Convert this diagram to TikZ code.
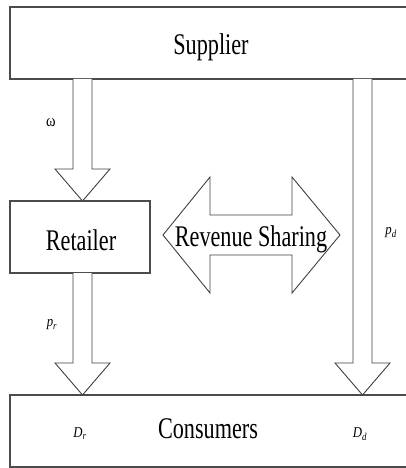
\documentclass[tikz,border=0pt]{standalone}
\usepackage{fontspec}
\setmainfont{Liberation Serif}
\usetikzlibrary{calc}
\tikzset{
  box/.style={draw=black!70, line width=1.3pt, rectangle, minimum height=72pt, inner sep=0pt},
  maintext/.style={inner sep=0pt, anchor=base, xscale=0.74, font=\fontsize{30}{32}\selectfont},
  blk/.style={draw=black!75, line width=0.9pt, line join=miter, fill=white},
  lbl/.style={inner sep=0pt, xscale=0.85, font=\fontsize{15}{17}\selectfont\itshape},
}
\newcommand\blockdown[2]{%
  \draw[blk] ($(#1)+(-9.5,0)$) -- ($(#2)+(-9.5,-32)$) -- ($(#2)+(-27.5,-32)$) -- (#2)
    -- ($(#2)+(27.5,-32)$) -- ($(#2)+(9.5,-32)$) -- ($(#1)+(9.5,0)$);}
\begin{document}
\begin{tikzpicture}[x=1pt,y=-1pt]
\useasboundingbox (0,0) rectangle (406,468);
\clip (0,0) rectangle (406,468);
\node[box, minimum width=400pt] (sup) at (210,43) {};
\node[box, minimum width=140pt] (ret) at (80,237) {};
\node[box, minimum width=400pt] (con) at (210,431) {};
\node[maintext] (supt) at (211,55) {Supplier};
\node[maintext] (rett) at (81,250) {Retailer};
\node[maintext] (cont) at (208,438) {Consumers};
% connectors
\coordinate (a1s) at (82.5,79);
\coordinate (a1e) at (82.5,201);
\coordinate (a2s) at (82.5,273);
\coordinate (a2e) at (82.5,395);
\coordinate (a3s) at (362.5,79);
\coordinate (a3e) at (362.5,395);
\blockdown{a1s}{a1e}
\blockdown{a2s}{a2e}
\blockdown{a3s}{a3e}
% revenue sharing double arrow
\coordinate (rsl) at (163,235);
\coordinate (rsr) at (340,235);
\draw[blk] (rsl) -- (210,177) -- (210,215) -- (292,215) -- (292,177) -- (rsr)
  -- (292,293) -- (292,255) -- (210,255) -- (210,293) -- cycle;
\node[maintext] (rs) at (251,246) {Revenue Sharing};
% labels
\node[inner sep=0pt, xscale=0.85, font=\fontsize{17}{19}\selectfont] (w) at (51,123) {ω};
\node[lbl] (pr) at (52,325) {p\textsubscript{r}};
\node[lbl] (pd) at (391,233) {p\textsubscript{d}};
\node[lbl] (dr) at (80,434) {D\textsubscript{r}};
\node[lbl] (dd) at (360,434) {D\textsubscript{d}};
\end{tikzpicture}
\end{document}
